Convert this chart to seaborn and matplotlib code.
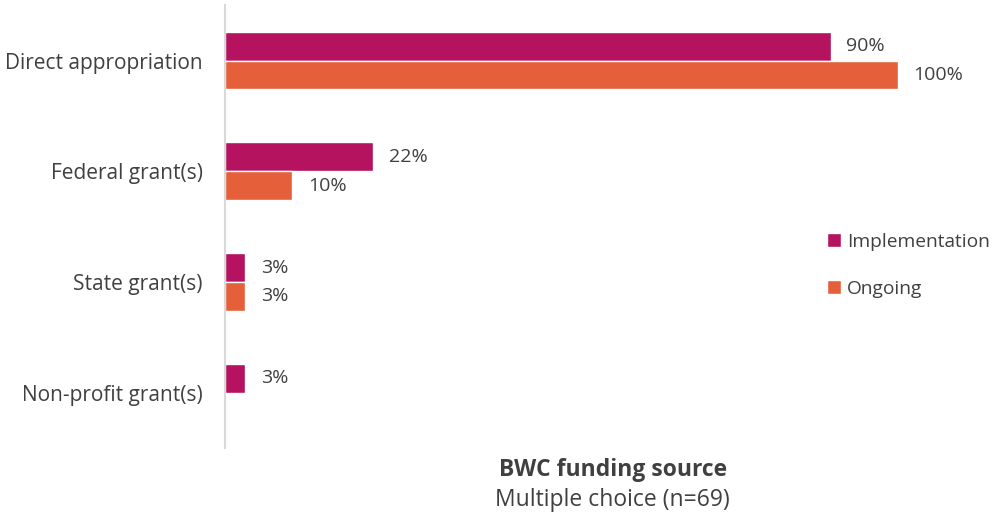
import pandas as pd
import matplotlib.pyplot as plt
import seaborn as sns

sns.set_theme(style="white")
plt.rcParams["font.family"] = ["Open Sans", "DejaVu Sans"]

# dati
categorie = ["Direct appropriation", "Federal grant(s)", "State grant(s)", "Non-profit grant(s)"]
implementation = [90, 22, 3, 3]
ongoing = [100, 10, 3, None]
serie = ["Implementation", "Ongoing"]
colori = ["#B5125F", "#E5603A"]

righe = []
for c, v in zip(categorie, implementation):
    righe.append({"fonte": c, "fase": serie[0], "pct": v})
for c, v in zip(categorie, ongoing):
    righe.append({"fonte": c, "fase": serie[1], "pct": v})
df = pd.DataFrame(righe)

fig = plt.figure(figsize=(10.08, 5.17), dpi=100)
ax = fig.add_axes([0.2232, 0.1335, 0.768, 0.8565])

sns.barplot(data=df, y="fonte", x="pct", hue="fase", hue_order=serie,
            palette=colori, orient="h", width=0.52, saturation=1,
            errorbar=None, ax=ax)

testo = "#404040"
for cont in ax.containers:
    for bar in cont:
        w = bar.get_width()
        if w != w or w == 0:
            continue
        ax.text(w + 2.3, bar.get_y() + bar.get_height() / 2, f"{w:.0f}%",
                va="center", ha="left", fontsize=14, color=testo)

ax.set_xlim(0, 115)
ax.set_ylim(3.5, -0.5)
ax.set_xticks([])
ax.set_ylabel("")
ax.set_xlabel("")
for s in ["top", "right", "bottom"]:
    ax.spines[s].set_visible(False)
ax.spines["left"].set_color("#D9D9D9")
ax.spines["left"].set_linewidth(1.5)
ax.tick_params(axis="y", length=0, pad=16, labelsize=15, labelcolor=testo)

fig.text(0.608, 0.09, "BWC funding source", ha="center", va="center",
         fontsize=16.5, fontweight="bold", color=testo)
fig.text(0.608, 0.032, "Multiple choice (n=69)", ha="center", va="center",
         fontsize=16.5, color=testo)

leg = ax.legend(loc="upper left", bbox_to_anchor=(0.755, 0.525), frameon=False,
                fontsize=13.8, handlelength=0.75, handleheight=0.75,
                handletextpad=0.3, labelspacing=1.5)
for t in leg.get_texts():
    t.set_color(testo)

fig.savefig("out.png", dpi=100)
